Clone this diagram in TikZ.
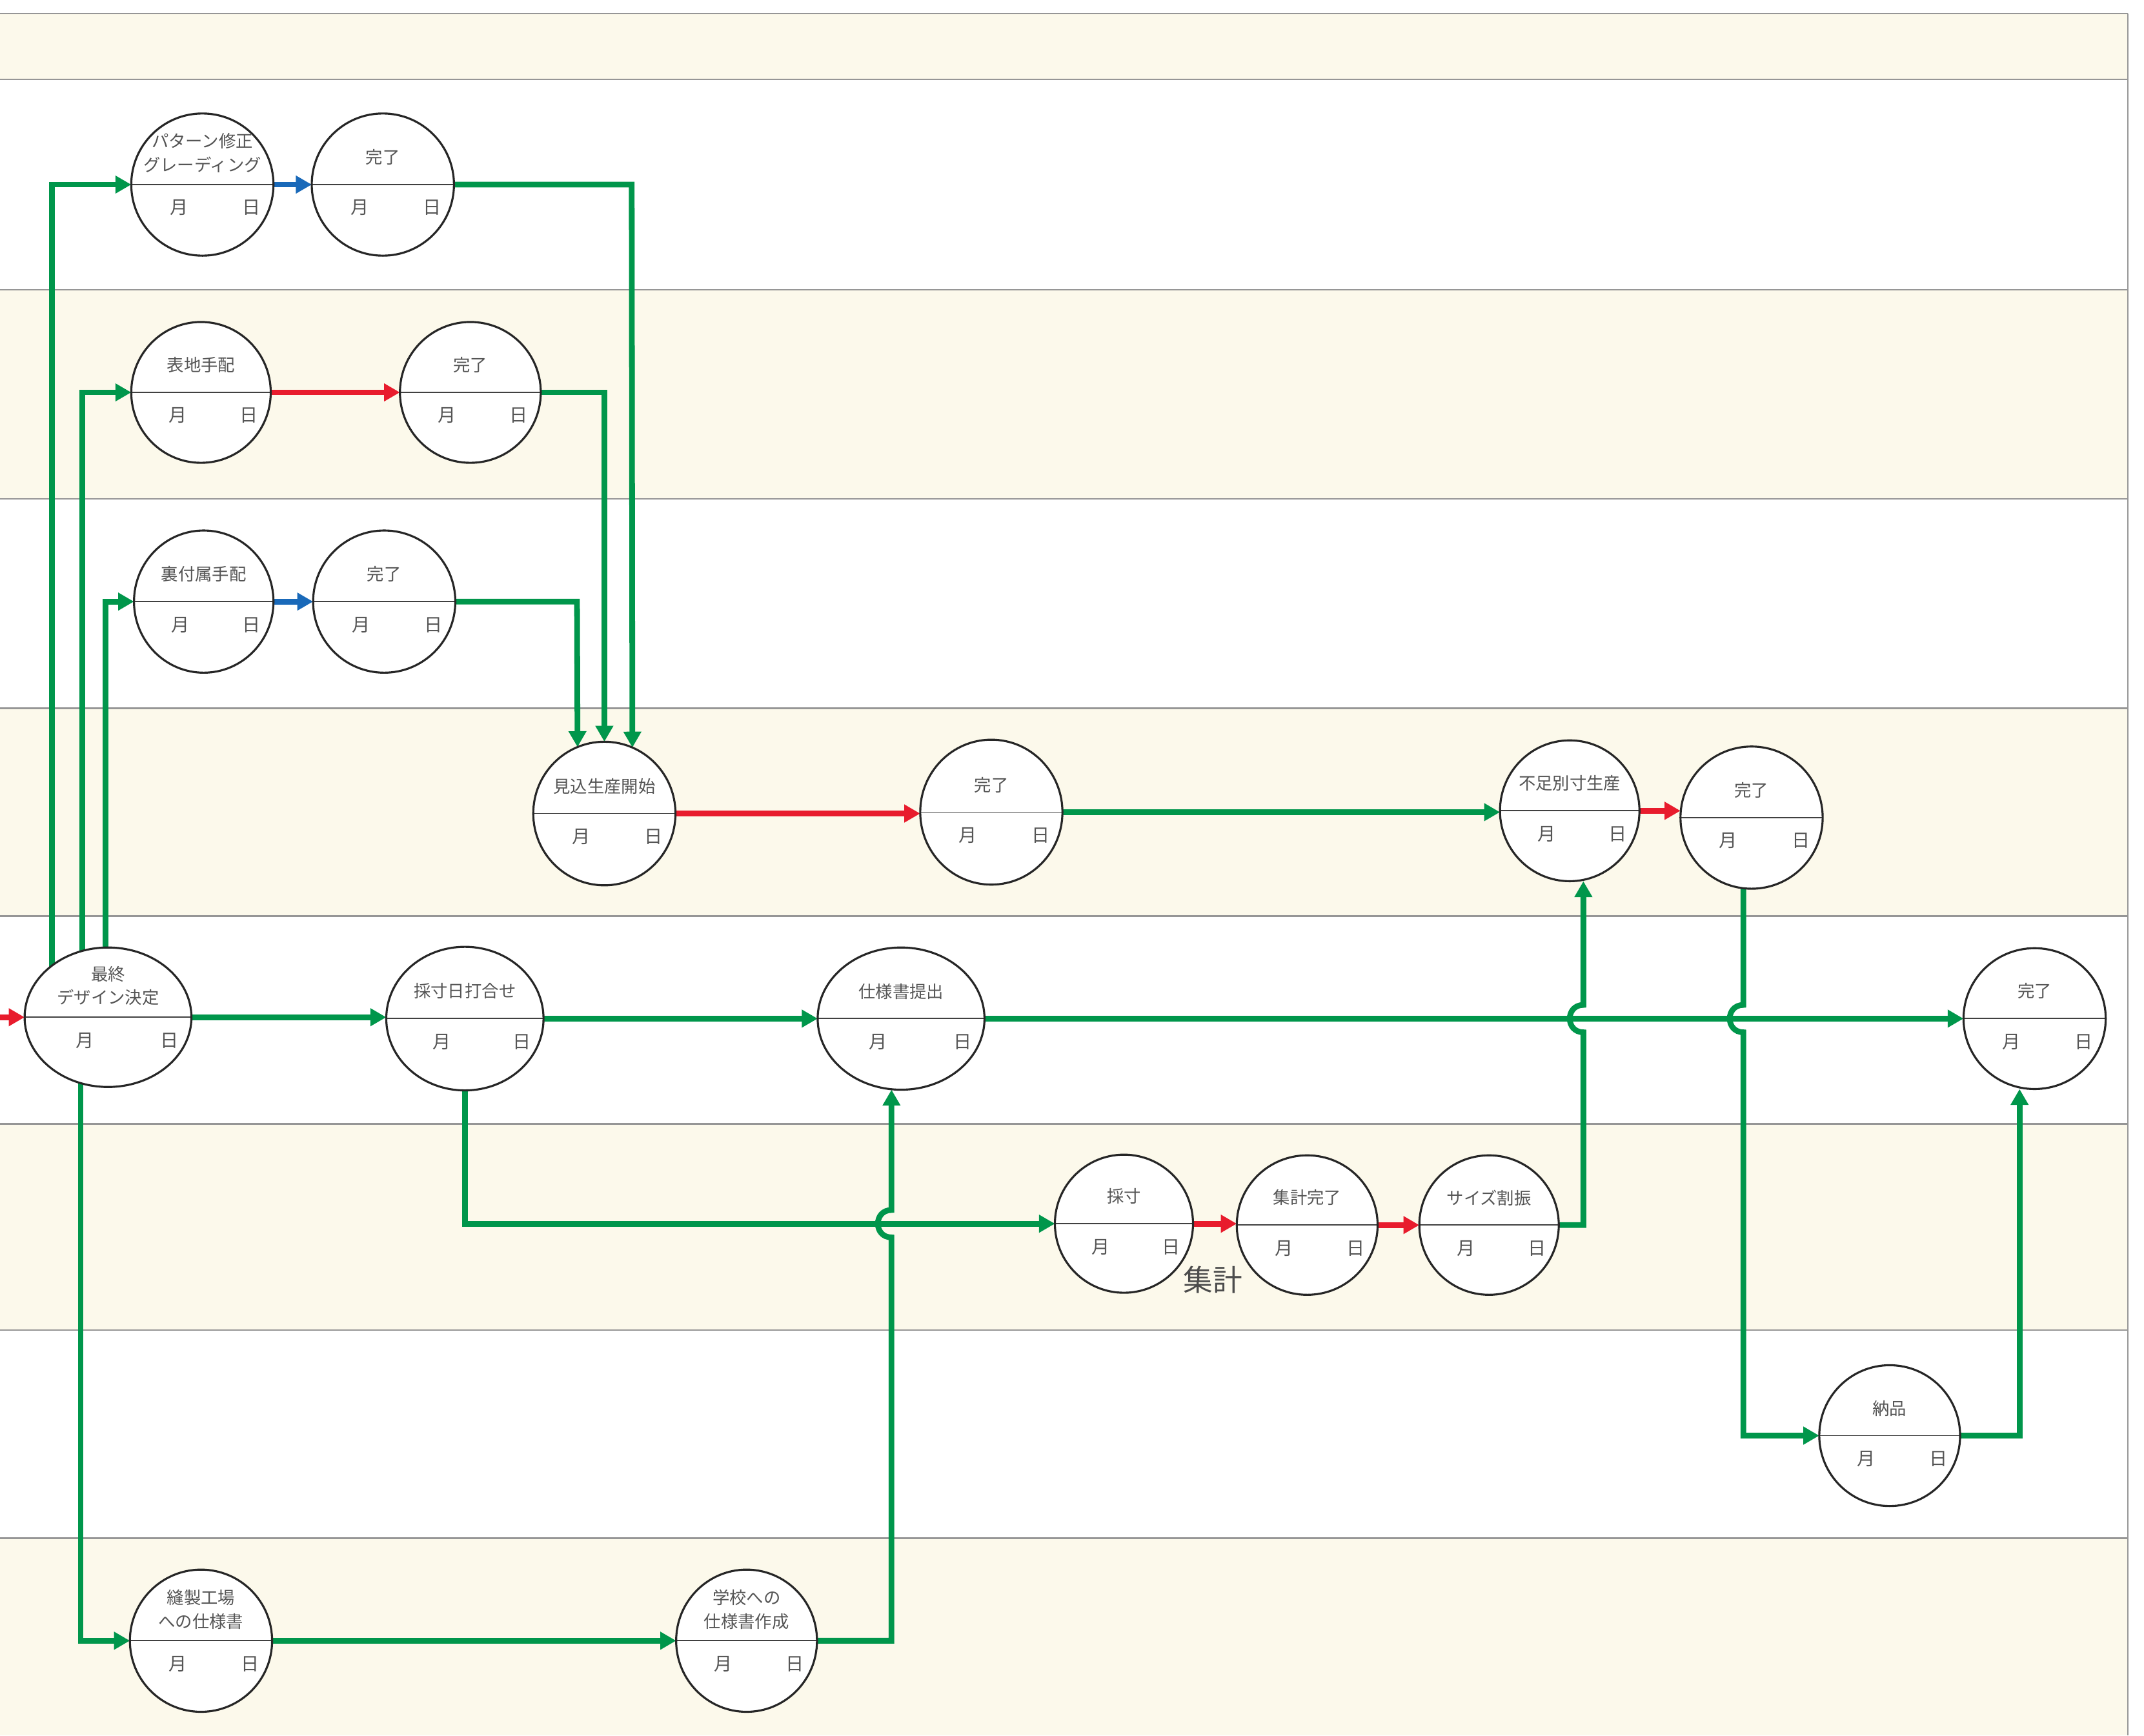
\documentclass[tikz,border=0pt]{standalone}
\usepackage{fontspec}
\newfontfamily\jp{Noto Sans CJK JP}
\usetikzlibrary{arrows.meta,calc,shapes.geometric}
\pgfdeclarelayer{back}
\pgfdeclarelayer{bg}
\pgfsetlayers{back,bg,main}
\definecolor{bandc}{RGB}{252,249,235}
\definecolor{gridc}{RGB}{150,150,150}
\definecolor{gline}{RGB}{0,150,75}
\definecolor{rline}{RGB}{232,28,45}
\definecolor{bline}{RGB}{25,105,185}
\definecolor{txtc}{RGB}{85,85,85}
\def\ucm{0.021186cm}
\tikzset{
  ev/.style={ellipse, draw=black!85, line width=0.9pt, fill=white, inner sep=0pt, outer sep=0pt,
    path picture={
      \draw[black!75, line width=0.5pt] (path picture bounding box.west) -- (path picture bounding box.east);
      \node[font=\jp\fontsize{8}{8}\selectfont, text=txtc] at ($(path picture bounding box.center)+(-17,17)$) {月};
      \node[font=\jp\fontsize{8}{8}\selectfont, text=txtc] at ($(path picture bounding box.east)+(-16,17)$) {日};
    }},
  tt/.style={font=\jp\fontsize{7.5}{10.5}\selectfont, text=txtc, align=center, inner sep=0pt},
  garr/.style={draw=gline, line width=2.5pt, -{Triangle[length=7pt,width=7.5pt]}},
  rarr/.style={draw=rline, line width=2.5pt, -{Triangle[length=7pt,width=7.5pt]}},
  barr/.style={draw=bline, line width=2.5pt, -{Triangle[length=7pt,width=7.5pt]}},
}
\newcommand\mkev[7]{%
  \node[ev, minimum width=#4*\ucm, minimum height=#5*\ucm] (#1) at (#2,#3) {};
  \node[tt] (#1t) at ($(#1)+(0,#6)$) {#7};}
\begin{document}
\begin{tikzpicture}[x=0.021186cm, y=-0.021186cm]
\useasboundingbox (0,0) rectangle (1568,1269.3);
% bands
\begin{pgfonlayer}{back}
  \fill[white] (0,0) rectangle (1568,1269.3);
  \fill[bandc] (0,10) rectangle (1556,58);
  \fill[bandc] (0,212) rectangle (1556,365);
  \fill[bandc] (0,518) rectangle (1556,670);
  \fill[bandc] (0,822) rectangle (1556,973);
  \fill[bandc] (0,1125) rectangle (1556,1269.3);
  \foreach \yy in {10,58,212,365,518,670,822,973,1125}
    \draw[gridc, line width=0.6pt] (0,\yy) -- (1556,\yy);
  \draw[gridc, line width=0.6pt] (1556,10) -- (1556,1269.3);
\end{pgfonlayer}
% nodes
\mkev{P1}{148}{135}{104}{104}{-23}{パターン修正\\グレーディング}
\mkev{P2}{280}{135}{104}{104}{-20}{完了}
\mkev{O1}{147}{287}{102}{103}{-20}{表地手配}
\mkev{O2}{344}{287}{103}{103}{-20}{完了}
\mkev{U1}{149}{440}{102}{104}{-20}{裏付属手配}
\mkev{U2}{281}{440}{104}{104}{-20}{完了}
\mkev{M1}{442}{595}{104}{105}{-20}{見込生産開始}
\mkev{M2}{725}{594}{104}{106}{-20}{完了}
\mkev{F1}{1148}{593}{102}{103}{-20}{不足別寸生産}
\mkev{F2}{1281}{598}{104}{104}{-20}{完了}
\mkev{D}{79}{744}{122}{102}{-23}{最終\\デザイン決定}
\mkev{S}{340}{745}{115}{105}{-20}{採寸日打合せ}
\mkev{T}{659}{745}{122}{104}{-20}{仕様書提出}
\mkev{E}{1488}{745}{104}{103}{-20}{完了}
\mkev{A}{822}{895}{101}{101}{-20}{採寸}
\mkev{B}{956}{896}{103}{102}{-20}{集計完了}
\mkev{C}{1089}{896}{102}{102}{-20}{サイズ割振}
\mkev{N}{1382}{1050}{103}{103}{-20}{納品}
\mkev{K}{147}{1200}{104}{104}{-23}{縫製工場\\への仕様書}
\mkev{G}{546}{1200}{103}{104}{-23}{学校への\\仕様書作成}
\node[font=\jp\fontsize{13}{13}\selectfont, text=black!70, inner sep=0pt] (lbl) at (887,936) {集計};
\coordinate (inD) at (0,744);
% connectors
\begin{pgfonlayer}{bg}
  \draw[rarr] (inD) -- (D.west);
  \draw[garr] (D.east) -- (D.east -| S.west);
  \draw[garr] (S.east) -- (S.east -| T.west);
  \draw[garr] (T.east) -- (T.east -| E.west);
  % D upward
  \draw[garr] (38,744) -- (38,135) -- (P1.west);
  \draw[garr] (60,744) -- (60,287) -- (O1.west);
  \draw[garr] (77,744) -- (77,440) -- (U1.west);
  % D downward
  \draw[garr] (59,744) -- (59,1200) -- (K.west);
  \draw[garr] (K.east) -- (G.west);
  % row transitions
  \draw[barr] (P1.east) -- (P2.west);
  \draw[rarr] (O1.east) -- (O2.west);
  \draw[barr] (U1.east) -- (U2.west);
  \draw[garr] (P2.east) -- (462,135) -- (M1.67.4);
  \draw[garr] (O2.east) -- (442,287) -- (M1.north);
  \draw[garr] (U2.east) -- (422,440) -- (M1.112.6);
  \draw[rarr] (M1.east) -- (M1.east -| M2.west);
  \draw[garr] (M2.east) -- (M2.east -| F1.west);
  \draw[rarr] (F1.east) -- (F1.east -| F2.west);
  % S down to A
  \draw[garr] (S.south) -- (340,895) -- (A.west);
  \draw[rarr] (A.east) -- (A.east -| B.west);
  \draw[rarr] (B.east) -- (B.east -| C.west);
  % G up to T with hop over S-A line
  \draw[garr] (G.east) -- (652,1200) -- (652,905) .. controls (638.7,905) and (638.7,885) .. (652,885) -- (652,0 |- T.south);
  % C up to F1 with hop
  \draw[garr] (C.east) -- (1158,896) -- (1158,755) .. controls (1144.7,755) and (1144.7,735) .. (1158,735) -- (1158,0 |- F1.south);
  % F2 down to N with hop
  \draw[garr] (1275,598) -- (1275,735) .. controls (1261.7,735) and (1261.7,755) .. (1275,755) -- (1275,1050) -- (N.west);
  % N up to E
  \draw[garr] (N.east) -- (1477,1050) -- (1477,0 |- E.south);
\end{pgfonlayer}
\end{tikzpicture}
\end{document}
